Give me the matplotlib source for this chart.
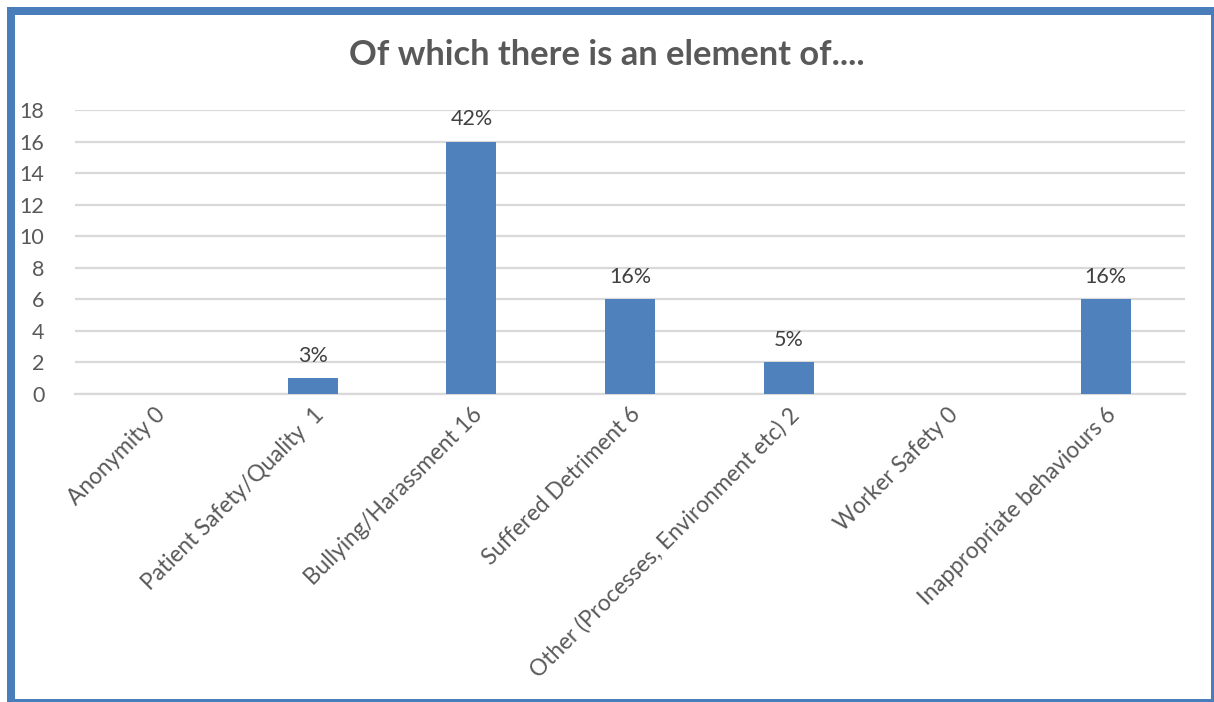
import matplotlib.pyplot as plt
from matplotlib.patches import Rectangle
import numpy as np

# category labels, counts and the share labels shown on the bars
categories = [
    "Anonymity 0",
    "Patient Safety/Quality  1",
    "Bullying/Harassment 16",
    "Suffered Detriment 6",
    "Other (Processes, Environment etc) 2",
    "Worker Safety 0",
    "Inappropriate behaviours 6",
]
counts = [0, 1, 16, 6, 2, 0, 6]
share_labels = ["", "3%", "42%", "16%", "5%", "", "16%"]
y_ticks = [0, 2, 4, 6, 8, 10, 12, 14, 16, 18]

BAR_BLUE = "#4F81BD"
TEXT_GREY = "#595959"
GRID_GREY = "#D9D9D9"

plt.rcParams["font.family"] = ["Lato", "DejaVu Sans"]

W, H = 1214, 702
fig = plt.figure(figsize=(W / 100, H / 100), dpi=100)
fig.patch.set_facecolor("white")

ax = fig.add_axes([75 / W, 1 - 394 / H, (1185 - 75) / W, (394 - 110) / H])

x = np.arange(len(categories))
ax.bar(x, counts, width=0.315, color=BAR_BLUE, zorder=3)

for xi, c, lab in zip(x, counts, share_labels):
    if lab:
        ax.annotate(lab, (xi, c), xytext=(0, 9), textcoords="offset points",
                    ha="center", va="bottom", fontsize=15.5, color="#404040")

ax.set_xlim(-0.5, len(categories) - 0.5)
ax.set_ylim(0, 18)
ax.set_yticks(y_ticks)
ax.set_yticklabels([str(t) for t in y_ticks], fontsize=15.5, color=TEXT_GREY)
ax.yaxis.grid(True, color=GRID_GREY, linewidth=1.6, zorder=0)
ax.set_axisbelow(True)
ax.tick_params(axis="y", length=0, pad=22)
ax.tick_params(axis="x", length=0, pad=7)

ax.set_xticks(x)
ax.set_xticklabels(categories, rotation=45, ha="right", va="top",
                   rotation_mode="anchor", fontsize=16.3, color=TEXT_GREY)

for s in ["top", "right", "left"]:
    ax.spines[s].set_visible(False)
ax.spines["bottom"].set_color(GRID_GREY)
ax.spines["bottom"].set_linewidth(1.6)

fig.text(0.5, 1 - 55 / H, "Of which there is an element of....", ha="center",
         va="center", fontsize=24.8, fontweight="bold", color=TEXT_GREY)

# outer frame: thick on left/top, thin on right/bottom
frame = "#4A7EBB"
for (x0, y0, w, h) in [(7, 7, 8, 695), (7, 7, 1207, 8),
                       (1211, 7, 3, 695), (7, 699, 1207, 3)]:
    fig.add_artist(Rectangle((x0 / W, 1 - (y0 + h) / H), w / W, h / H,
                             transform=fig.transFigure, color=frame, lw=0))

fig.savefig("out.png", dpi=100)
